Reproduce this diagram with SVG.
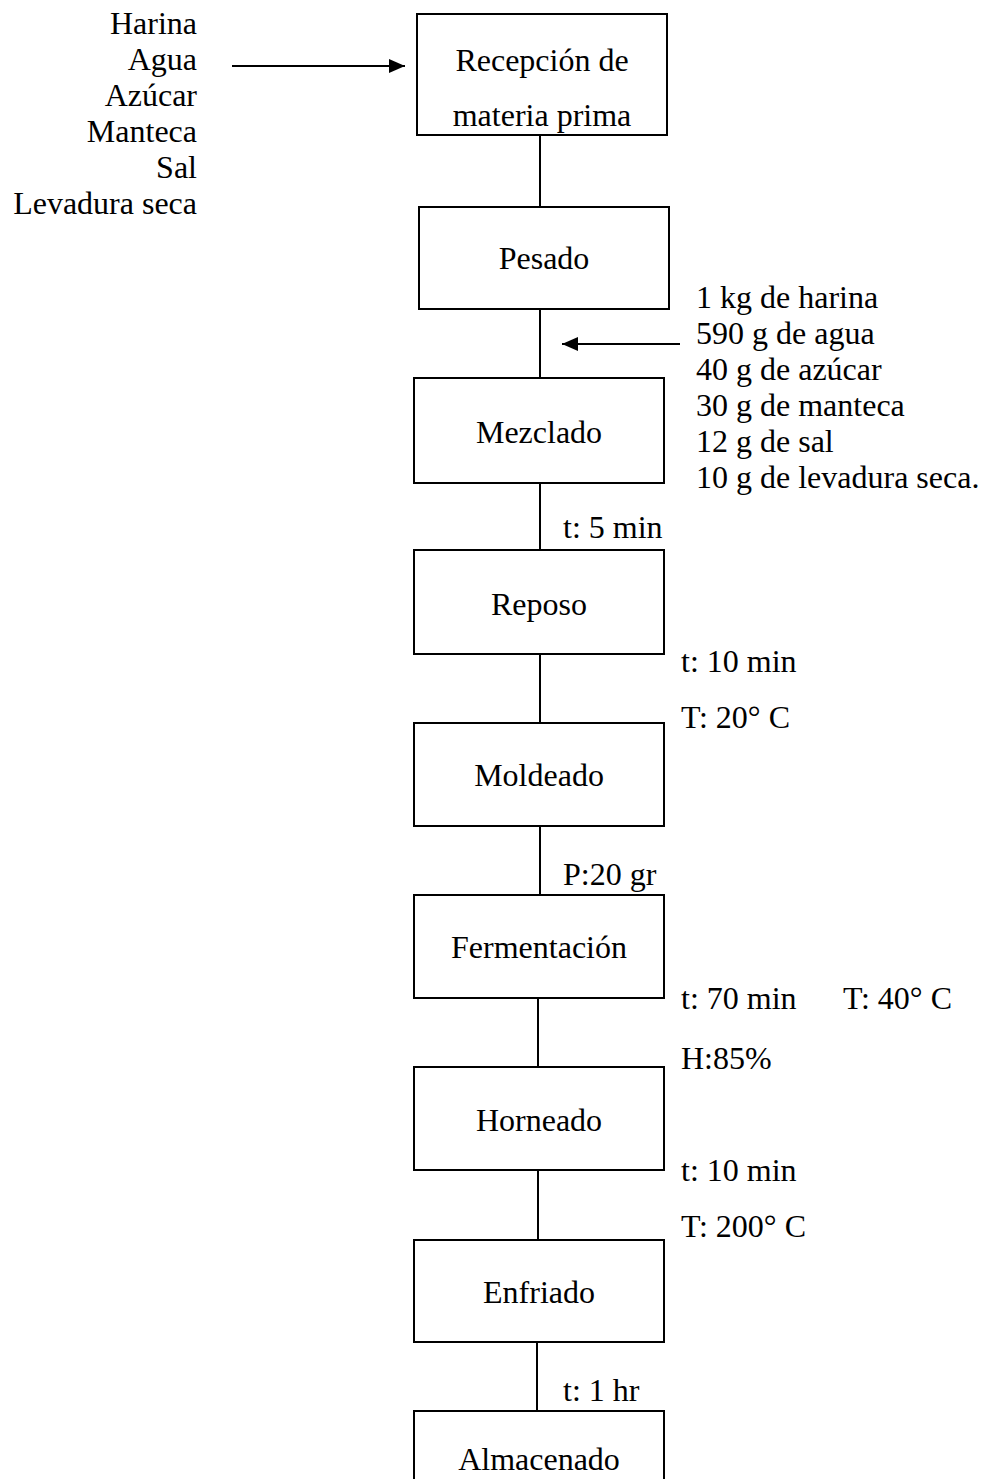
<svg xmlns="http://www.w3.org/2000/svg" width="981" height="1479" viewBox="0 0 981 1479">
<defs>
<style>
text{font-family:"Liberation Serif","Times New Roman",serif;font-size:32px;fill:#000}
.c{text-anchor:middle}
.r{text-anchor:end}
.box{fill:#fff;stroke:#000;stroke-width:2}
line{stroke:#000;stroke-width:2}
</style>
<marker id="ah" viewBox="0 0 16 14" refX="16" refY="7" markerWidth="16" markerHeight="14" markerUnits="userSpaceOnUse" orient="auto">
<path d="M0,0 L16,7 L0,14 z" fill="#000"/>
</marker>
</defs>
<rect width="981" height="1479" fill="#fff"/>
<g id="connectors">
<line x1="540" y1="135" x2="540" y2="207"/>
<line x1="540" y1="309" x2="540" y2="378"/>
<line x1="540" y1="483" x2="540" y2="550"/>
<line x1="540" y1="654" x2="540" y2="723"/>
<line x1="540" y1="826" x2="540" y2="895"/>
<line x1="538" y1="998" x2="538" y2="1067"/>
<line x1="538" y1="1170" x2="538" y2="1240"/>
<line x1="537" y1="1342" x2="537" y2="1411"/>
<line x1="232" y1="66" x2="405" y2="66" marker-end="url(#ah)"/>
<line x1="680" y1="344" x2="562" y2="344" marker-end="url(#ah)"/>
</g>
<g id="inputs">
<text class="r" x="197" y="34">Harina</text>
<text class="r" x="197" y="70">Agua</text>
<text class="r" x="197" y="106">Azúcar</text>
<text class="r" x="197" y="142">Manteca</text>
<text class="r" x="197" y="178">Sal</text>
<text class="r" x="197" y="214">Levadura seca</text>
</g>
<g id="recepcion">
<rect class="box" x="417" y="14" width="250" height="121"/>
<text class="c" x="542" y="71">Recepción de</text>
<text class="c" x="542" y="126">materia prima</text>
</g>
<g id="pesado">
<rect class="box" x="419" y="207" width="250" height="102"/>
<text class="c" x="544" y="269">Pesado</text>
</g>
<g id="cantidades">
<text x="696" y="308">1 kg de harina</text>
<text x="696" y="344">590 g de agua</text>
<text x="696" y="380">40 g de azúcar</text>
<text x="696" y="416">30 g de manteca</text>
<text x="696" y="452">12 g de sal</text>
<text x="696" y="488">10 g de levadura seca.</text>
</g>
<g id="mezclado">
<rect class="box" x="414" y="378" width="250" height="105"/>
<text class="c" x="539" y="443">Mezclado</text>
</g>
<text x="563" y="538">t: 5 min</text>
<g id="reposo">
<rect class="box" x="414" y="550" width="250" height="104"/>
<text class="c" x="539" y="615">Reposo</text>
</g>
<text x="681" y="672">t: 10 min</text>
<text x="681" y="728">T: 20° C</text>
<g id="moldeado">
<rect class="box" x="414" y="723" width="250" height="103"/>
<text class="c" x="539" y="786">Moldeado</text>
</g>
<text x="563" y="885">P:20 gr</text>
<g id="fermentacion">
<rect class="box" x="414" y="895" width="250" height="103"/>
<text class="c" x="539" y="958">Fermentación</text>
</g>
<text x="681" y="1009">t: 70 min</text>
<text x="843" y="1009">T: 40° C</text>
<text x="681" y="1069">H:85%</text>
<g id="horneado">
<rect class="box" x="414" y="1067" width="250" height="103"/>
<text class="c" x="539" y="1131">Horneado</text>
</g>
<text x="681" y="1181">t: 10 min</text>
<text x="681" y="1237">T: 200° C</text>
<g id="enfriado">
<rect class="box" x="414" y="1240" width="250" height="102"/>
<text class="c" x="539" y="1303">Enfriado</text>
</g>
<text x="563" y="1401">t: 1 hr</text>
<g id="almacenado">
<rect class="box" x="414" y="1411" width="250" height="100"/>
<text class="c" x="539" y="1470">Almacenado</text>
</g>
</svg>
